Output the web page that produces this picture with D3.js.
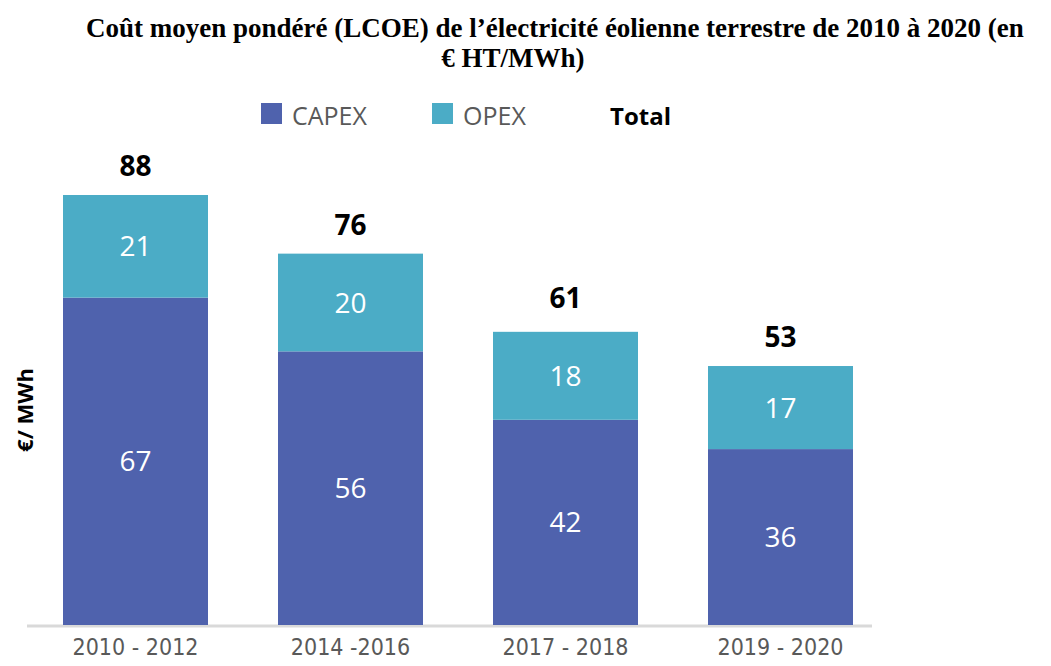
<!DOCTYPE html>
<html>
<head>
<meta charset="utf-8">
<script src="https://cdn.jsdelivr.net/npm/d3@7"></script>
<style>
  body { margin: 0; background: #fff; }
  svg { display: block; }
</style>
</head>
<body>
<div id="chart"></div>
<script>
var periods = ["2010 - 2012", "2014 -2016", "2017 - 2018", "2019 - 2020"];
var capex = [67, 56, 42, 36];
var opex = [21, 20, 18, 17];
var totals = [88, 76, 61, 53];
var seriesNames = ["CAPEX", "OPEX"];

var W = 1051, H = 666;
var colors = { CAPEX: "#4f62ad", OPEX: "#4bacc6" };

var svg = d3.select("#chart").append("svg")
    .attr("width", W)
    .attr("height", H);

// title
svg.append("text")
    .attr("x", 86).attr("y", 37)
    .style("font", "bold 27px 'Liberation Serif', serif")
    .text("Coût moyen pondéré (LCOE) de l’électricité éolienne terrestre de 2010 à 2020 (en");
svg.append("text")
    .attr("x", 513).attr("y", 67)
    .attr("text-anchor", "middle")
    .style("font", "bold 27px 'Liberation Serif', serif")
    .text("€ HT/MWh)");

var x = d3.scaleBand()
    .domain(periods)
    .range([28, 888])
    .paddingInner(0.3256)
    .paddingOuter(0.1628);

var y = d3.scaleLinear()
    .domain([0, 88])
    .range([625, 195]);

var rows = periods.map(function (p, i) {
    return { period: p, CAPEX: capex[i], OPEX: opex[i], total: totals[i] };
});
var stack = d3.stack().keys(seriesNames)(rows);

var g = svg.append("g");

// baseline
g.append("line")
    .attr("x1", 27).attr("x2", 872)
    .attr("y1", y(0) + 1).attr("y2", y(0) + 1)
    .attr("stroke", "#d9d9d9")
    .attr("stroke-width", 3);

var layers = g.selectAll(".layer")
    .data(stack)
    .enter().append("g")
    .attr("class", "layer")
    .attr("fill", function (d) { return colors[d.key]; });

layers.selectAll("rect")
    .data(function (d) { return d; })
    .enter().append("rect")
    .attr("x", function (d) { return x(d.data.period); })
    .attr("y", function (d) { return y(d[1]); })
    .attr("width", x.bandwidth())
    .attr("height", function (d) { return y(d[0]) - y(d[1]); });

layers.selectAll("text")
    .data(function (d) { return d; })
    .enter().append("text")
    .attr("x", function (d) { return x(d.data.period) + x.bandwidth() / 2; })
    .attr("y", function (d) { return (y(d[0]) + y(d[1])) / 2; })
    .attr("dy", "0.36em")
    .attr("text-anchor", "middle")
    .attr("fill", "#fff")
    .style("font", "500 28px 'Open Sans', sans-serif")
    .text(function (d) { return d[1] - d[0]; });

// totals
g.selectAll(".total")
    .data(rows)
    .enter().append("text")
    .attr("class", "total")
    .attr("x", function (d) { return x(d.period) + x.bandwidth() / 2; })
    .attr("y", function (d) { return y(d.total) - 19; })
    .attr("text-anchor", "middle")
    .style("font", "bold 28px 'Open Sans', sans-serif")
    .text(function (d) { return d.total; });

// x axis
var xAxis = g.append("g")
    .attr("transform", "translate(0,625)")
    .call(d3.axisBottom(x).tickSize(0).tickPadding(14));
xAxis.select(".domain").remove();
xAxis.selectAll("text")
    .attr("fill", "#595959")
    .style("font", "23px 'Liberation Sans Narrow', 'DejaVu Sans Condensed', sans-serif");

// y label
svg.append("text")
    .attr("transform", "translate(33,410) rotate(-90)")
    .attr("text-anchor", "middle")
    .style("font", "bold 22px 'Open Sans', sans-serif")
    .text("€/ MWh");

// legend
var legend = svg.append("g");
var legendItems = [
    { name: "CAPEX", x: 261 },
    { name: "OPEX", x: 432 }
];
legend.selectAll("rect")
    .data(legendItems)
    .enter().append("rect")
    .attr("x", function (d) { return d.x; })
    .attr("y", 103)
    .attr("width", 21).attr("height", 21)
    .attr("fill", function (d) { return colors[d.name]; });
legend.selectAll("text.lg")
    .data(legendItems)
    .enter().append("text")
    .attr("class", "lg")
    .attr("x", function (d) { return d.x + 31; })
    .attr("y", 125)
    .attr("fill", "#595959")
    .style("font", "25px 'Open Sans', sans-serif")
    .text(function (d) { return d.name; });
legend.append("text")
    .attr("x", 610).attr("y", 125)
    .style("font", "bold 24px 'Open Sans', sans-serif")
    .text("Total");
</script>
</body>
</html>
